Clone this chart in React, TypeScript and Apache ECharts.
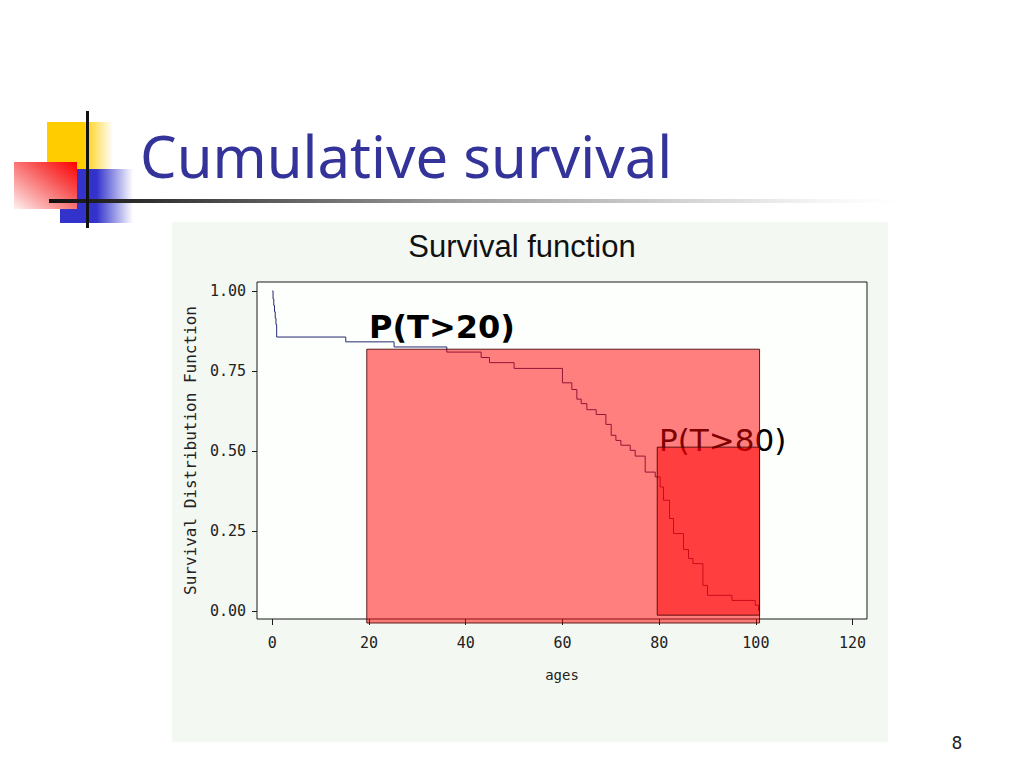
import React, { useEffect, useRef } from "react";
import * as echarts from "echarts";

// Kaplan-Meier style survival curve (step function)
const AGES = [
  0, 0.15, 0.3, 0.45, 0.6, 0.75, 0.9, 15.19, 25.18, 36.08, 43.18, 44.9, 50.0,
  60.0, 61.94, 62.98, 63.87, 65.05, 66.97, 68.98, 70.08, 71.05, 72.08, 74.01,
  75.04, 77.11, 79.18, 80.21, 80.9, 82.14, 82.97, 85.03, 86.07, 86.98, 89.05,
  90.0, 95.05, 99.87, 100.55,
];
const SURVIVAL = [
  1.0, 0.975, 0.955, 0.935, 0.915, 0.895, 0.856, 0.841, 0.825, 0.809, 0.792,
  0.776, 0.758, 0.713, 0.692, 0.662, 0.648, 0.629, 0.614, 0.583, 0.549, 0.533,
  0.518, 0.502, 0.484, 0.434, 0.419, 0.3875, 0.346, 0.289, 0.242, 0.192, 0.164,
  0.148, 0.08, 0.049, 0.033, 0.018, 0.0,
];

const X_TICKS = [0, 20, 40, 60, 80, 100, 120];
const Y_TICKS = [0, 0.25, 0.5, 0.75, 1.0];

// shaded probability regions
const REGION_LABELS = ["P(T>20)", "P(T>80)"];
const REGION_FROM = [19.53, 79.6];
const REGION_TO = [100.76, 100.76];
const REGION_TOP = [0.818, 0.512];
const REGION_BOTTOM = [-0.0375, -0.013];

const SLIDE_TITLE = "Cumulative survival";
const CHART_TITLE = "Survival function";
const X_NAME = "ages";
const Y_NAME = "Survival Distribution Function";
const PAGE_NUMBER = "8";

export default function App() {
  const ref = useRef<HTMLDivElement>(null);

  useEffect(() => {
    if (!ref.current) return;
    const chart = echarts.init(ref.current, null, { renderer: "svg" });
    const curve = AGES.map((a, i) => [a, SURVIVAL[i]]);
    const regions = REGION_FROM.map((x0, i) => [
      x0,
      REGION_TO[i],
      REGION_TOP[i],
      REGION_BOTTOM[i],
    ]);
    const mono = "'DejaVu Sans Mono', monospace";
    const tick = "#1a1a1a";

    chart.setOption({
      animation: false,
      backgroundColor: "#ffffff",
      grid: {
        left: 257,
        top: 282,
        width: 610,
        height: 337,
        show: true,
        backgroundColor: "#fcfffc",
        borderColor: "#1a1a1a",
        borderWidth: 1,
      },
      xAxis: {
        type: "value",
        min: -3.17,
        max: 122.98,
        axisLine: { show: false, onZero: false },
        splitLine: { show: false },
        axisTick: {
          show: true,
          customValues: X_TICKS,
          length: 6,
          lineStyle: { color: tick },
        },
        axisLabel: {
          customValues: X_TICKS,
          formatter: (v: number) => String(v),
          margin: 16,
          fontFamily: mono,
          fontSize: 15,
          color: "#222",
        },
        name: X_NAME,
        nameLocation: "middle",
        nameGap: 49,
        nameTextStyle: { fontFamily: mono, fontSize: 14, color: "#222" },
      },
      yAxis: {
        type: "value",
        min: -0.025,
        max: 1.028,
        axisLine: { show: false, onZero: false },
        splitLine: { show: false },
        axisTick: {
          show: true,
          customValues: Y_TICKS,
          length: 5,
          lineStyle: { color: tick },
        },
        axisLabel: {
          customValues: Y_TICKS,
          formatter: (v: number) => v.toFixed(2),
          margin: 11,
          fontFamily: mono,
          fontSize: 15,
          color: "#222",
        },
        name: Y_NAME,
        nameLocation: "middle",
        nameGap: 58,
        nameTextStyle: { fontFamily: mono, fontSize: 16, color: "#222" },
      },
      graphic: [
        {
          type: "rect",
          z: -1,
          shape: { x: 172, y: 222, width: 716, height: 520 },
          style: { fill: "#f3f8f3" },
        },
        // logo
        {
          type: "rect",
          z: 5,
          shape: { x: 47, y: 122, width: 66, height: 48 },
          style: {
            fill: new echarts.graphic.LinearGradient(0, 0, 1, 0, [
              { offset: 0, color: "#ffcc00" },
              { offset: 0.55, color: "#ffcc00" },
              { offset: 1, color: "rgba(255,204,0,0)" },
            ]),
          },
        },
        {
          type: "rect",
          z: 5,
          shape: { x: 60, y: 169, width: 73, height: 54 },
          style: {
            fill: new echarts.graphic.LinearGradient(0, 0, 1, 0, [
              { offset: 0, color: "#3333cc" },
              { offset: 0.5, color: "#3333cc" },
              { offset: 1, color: "rgba(51,51,204,0)" },
            ]),
          },
        },
        {
          type: "rect",
          z: 6,
          shape: { x: 14, y: 162, width: 63, height: 47 },
          style: {
            fill: new echarts.graphic.LinearGradient(1, 0, 0, 1, [
              { offset: 0, color: "#ff0000" },
              { offset: 0.35, color: "#f85050" },
              { offset: 0.75, color: "#fbb0b0" },
              { offset: 1, color: "#fff2f2" },
            ]),
          },
        },
        {
          type: "rect",
          z: 7,
          shape: { x: 49, y: 199, width: 881, height: 4 },
          style: {
            fill: new echarts.graphic.LinearGradient(0, 0, 1, 0, [
              { offset: 0, color: "#111111" },
              { offset: 0.12, color: "#333333" },
              { offset: 0.45, color: "#9a9a9a" },
              { offset: 0.8, color: "#e4e4e4" },
              { offset: 1, color: "rgba(255,255,255,0)" },
            ]),
          },
        },
        {
          type: "rect",
          z: 7,
          shape: { x: 86, y: 111, width: 3, height: 117 },
          style: { fill: "#111111" },
        },
        {
          type: "text",
          z: 5,
          x: 140,
          y: 155,
          style: {
            text: SLIDE_TITLE,
            fill: "#333399",
            fontFamily: "'Noto Sans', sans-serif",
            fontSize: 58,
            align: "left",
            verticalAlign: "middle",
          },
        },
        {
          type: "text",
          z: 5,
          x: 522,
          y: 246,
          style: {
            text: CHART_TITLE,
            fill: "#111",
            fontFamily: "'Liberation Sans', Arial, sans-serif",
            fontSize: 31,
            align: "center",
            verticalAlign: "middle",
          },
        },
        {
          type: "text",
          z: 1,
          x: 369,
          y: 327,
          style: {
            text: REGION_LABELS[0],
            fill: "#000",
            fontFamily: "'DejaVu Sans', sans-serif",
            fontWeight: "bold",
            fontSize: 32,
            align: "left",
            verticalAlign: "middle",
          },
        },
        {
          type: "text",
          z: 1,
          x: 659,
          y: 440,
          style: {
            text: REGION_LABELS[1],
            fill: "#000",
            fontFamily: "'DejaVu Sans', sans-serif",
            fontSize: 31,
            align: "left",
            verticalAlign: "middle",
          },
        },
        {
          type: "text",
          z: 5,
          x: 957,
          y: 743,
          style: {
            text: PAGE_NUMBER,
            fill: "#222",
            fontFamily: "'DejaVu Sans', sans-serif",
            fontSize: 17,
            align: "center",
            verticalAlign: "middle",
          },
        },
      ],
      series: [
        {
          type: "line",
          name: "survival",
          data: curve,
          step: "end",
          showSymbol: false,
          symbol: "none",
          z: 2,
          lineStyle: { color: "#262a70", width: 1 },
        },
        {
          type: "custom",
          name: "regions",
          z: 3,
          clip: false,
          data: regions,
          encode: { x: [0, 1], y: [2, 3] },
          renderItem: (_params: any, api: any) => {
            const p0 = api.coord([api.value(0), api.value(2)]);
            const p1 = api.coord([api.value(1), api.value(3)]);
            return {
              type: "rect",
              shape: {
                x: p0[0],
                y: p0[1],
                width: p1[0] - p0[0],
                height: p1[1] - p0[1],
              },
              style: {
                fill: "rgba(255,0,0,0.5)",
                stroke: "rgba(70,0,0,0.85)",
                lineWidth: 1,
              },
            };
          },
        },
      ],
    });

    return () => chart.dispose();
  }, []);

  return (
    <div
      ref={ref}
      style={{ position: "fixed", left: 0, top: 0, width: 1024, height: 768 }}
    />
  );
}
